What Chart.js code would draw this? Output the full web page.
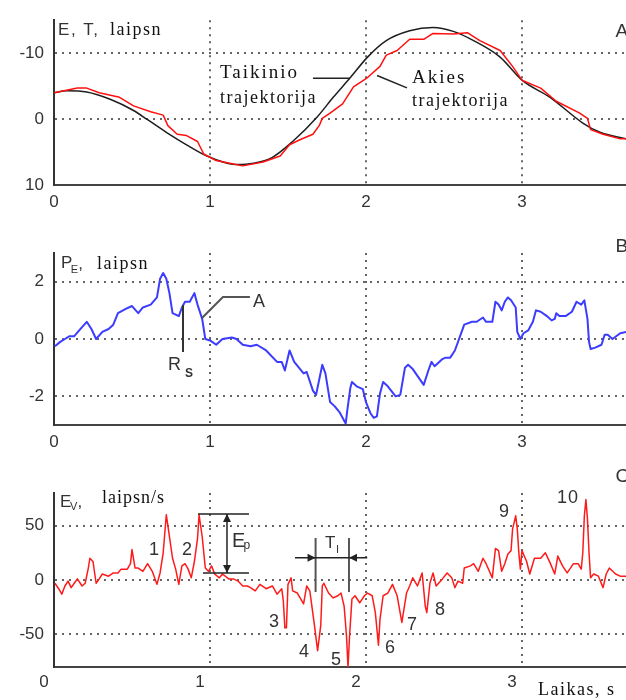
<!DOCTYPE html>
<html>
<head>
<meta charset="utf-8">
<script src="https://cdn.jsdelivr.net/npm/chart.js@4.4.1/dist/chart.umd.min.js"></script>
<style>
  body { margin: 0; background: #fff; width: 626px; height: 700px; overflow: hidden; position: relative; }
  canvas { position: absolute; left: 0; }
</style>
</head>
<body>
<canvas id="chartA" width="626" height="230" style="top:0"></canvas>
<canvas id="chartB" width="626" height="230" style="top:230px"></canvas>
<canvas id="chartC" width="626" height="240" style="top:460px"></canvas>
<script>
// time axis (s)
const xTicks = [0, 1, 2, 3];
const X_MAX = 3.667;

// A: target (Taikinio) and eye (Akies) trajectory, laipsn
const tTarget = [0, 0.08, 0.21, 0.36, 0.51, 0.6, 0.72, 0.85, 0.98, 1.11, 1.17, 1.28, 1.4, 1.53, 1.69, 1.79, 1.9, 2.01, 2.13, 2.28, 2.43, 2.56, 2.69, 2.86, 3.0, 3.18, 3.39, 3.5, 3.67];
const target = [-4, -4.3, -4.1, -3, -1.3, 0.1, 2, 3.9, 5.6, 6.7, 6.9, 6.7, 5.8, 3.4, -0.4, -3.3, -6.3, -9.4, -11.9, -13.4, -13.9, -13.3, -11.9, -9.4, -5.9, -3.3, 0.6, 2, 3];
const tEye = [0, 0.15, 0.21, 0.29, 0.42, 0.51, 0.62, 0.7, 0.73, 0.79, 0.85, 0.92, 0.96, 1.04, 1.15, 1.21, 1.34, 1.45, 1.51, 1.58, 1.66, 1.7, 1.72, 1.77, 1.85, 1.92, 2.01, 2.09, 2.13, 2.2, 2.28, 2.37, 2.43, 2.56, 2.65, 2.73, 2.86, 2.94, 3.0, 3.12, 3.22, 3.37, 3.42, 3.44, 3.52, 3.63, 3.67];
const eye = [-4, -4.7, -4.7, -4, -3.3, -2, -1.1, -0.6, 1, 2.3, 2.5, 3.4, 5.3, 6.3, 6.8, 7.1, 6.5, 5.6, 3.9, 3.1, 2.3, 1.0, -0.1, -0.9, -2.3, -4.9, -6.3, -8, -9.7, -10.4, -12.1, -12.1, -13, -12.9, -13.1, -11.9, -10.4, -8, -5.9, -4.7, -2.7, -0.9, -0.1, 1.6, 2.3, 3, 3];
const yTicksA = [-10, 0, 10];

// B: position error P_E, laipsn
const tPos = [0.006, 0.04, 0.07, 0.1, 0.13, 0.17, 0.21, 0.24, 0.27, 0.31, 0.35, 0.38, 0.41, 0.46, 0.5, 0.54, 0.57, 0.62, 0.66, 0.68, 0.7, 0.72, 0.74, 0.76, 0.8, 0.82, 0.84, 0.87, 0.9, 0.92, 0.95, 0.97, 1.0, 1.04, 1.08, 1.14, 1.17, 1.21, 1.26, 1.3, 1.36, 1.43, 1.46, 1.48, 1.51, 1.54, 1.6, 1.62, 1.66, 1.68, 1.72, 1.74, 1.77, 1.8, 1.83, 1.87, 1.88, 1.9, 1.91, 1.94, 1.98, 2.0, 2.03, 2.05, 2.07, 2.09, 2.11, 2.14, 2.19, 2.22, 2.25, 2.27, 2.3, 2.37, 2.4, 2.42, 2.44, 2.49, 2.51, 2.54, 2.57, 2.6, 2.63, 2.68, 2.71, 2.75, 2.77, 2.81, 2.83, 2.85, 2.87, 2.89, 2.91, 2.93, 2.96, 2.97, 2.99, 3.01, 3.04, 3.07, 3.09, 3.12, 3.16, 3.19, 3.21, 3.22, 3.24, 3.28, 3.32, 3.35, 3.38, 3.4, 3.42, 3.43, 3.44, 3.47, 3.51, 3.53, 3.55, 3.58, 3.63, 3.67];
const posErr = [-0.25, -0.1, 0, 0.1, 0.1, 0.35, 0.6, 0.35, 0, 0.25, 0.35, 0.5, 0.9, 1.05, 1.15, 0.9, 1.1, 1.2, 1.45, 2.1, 2.3, 2.1, 1.6, 0.9, 0.8, 1.1, 1.3, 1.3, 1.6, 1.2, 0.7, 0, -0.05, -0.2, 0, 0.05, 0, -0.2, -0.25, -0.2, -0.4, -0.8, -0.8, -1.1, -0.4, -0.8, -1.2, -1.15, -1.8, -1.95, -0.9, -1.2, -2.2, -2.35, -2.55, -2.95, -2.5, -1.7, -1.5, -1.65, -1.75, -2.2, -2.6, -2.75, -2.7, -1.9, -1.5, -1.65, -2.0, -1.95, -1.0, -0.9, -1.05, -1.6, -1.1, -0.8, -0.95, -0.7, -0.65, -0.65, -0.4, 0.05, 0.5, 0.6, 0.6, 0.75, 0.6, 0.6, 1.3, 1.2, 1.0, 1.3, 1.45, 1.35, 1.1, 0.25, 0, 0.2, 0.3, 0.6, 1.0, 0.95, 0.8, 0.65, 0.7, 0.9, 0.8, 0.8, 0.95, 1.3, 1.2, 1.35, 0.7, -0.1, -0.35, -0.3, -0.2, 0.15, 0.15, 0, 0.2, 0.25];
const yTicksB = [-2, 0, 2];

// C: velocity error E_V, laipsn/s
const tVel = [0.006, 0.03, 0.05, 0.07, 0.09, 0.11, 0.13, 0.15, 0.18, 0.2, 0.22, 0.23, 0.25, 0.27, 0.29, 0.31, 0.35, 0.38, 0.41, 0.43, 0.47, 0.49, 0.5, 0.52, 0.54, 0.57, 0.6, 0.63, 0.66, 0.68, 0.7, 0.72, 0.73, 0.76, 0.78, 0.8, 0.82, 0.84, 0.86, 0.88, 0.9, 0.92, 0.93, 0.95, 0.97, 0.99, 1.01, 1.03, 1.06, 1.08, 1.12, 1.15, 1.18, 1.21, 1.24, 1.26, 1.29, 1.32, 1.36, 1.4, 1.43, 1.46, 1.47, 1.48, 1.49, 1.5, 1.52, 1.53, 1.56, 1.6, 1.62, 1.64, 1.67, 1.69, 1.71, 1.72, 1.73, 1.76, 1.79, 1.82, 1.84, 1.86, 1.875, 1.885, 1.895, 1.91, 1.93, 1.96, 1.99, 2.01, 2.04, 2.06, 2.08, 2.09, 2.11, 2.14, 2.17, 2.2, 2.23, 2.24, 2.26, 2.28, 2.3, 2.33, 2.36, 2.38, 2.39, 2.41, 2.43, 2.45, 2.49, 2.52, 2.55, 2.57, 2.59, 2.62, 2.63, 2.67, 2.69, 2.72, 2.75, 2.77, 2.81, 2.83, 2.85, 2.87, 2.89, 2.91, 2.93, 2.94, 2.96, 2.97, 2.98, 2.99, 3.0, 3.03, 3.05, 3.08, 3.12, 3.15, 3.18, 3.21, 3.23, 3.26, 3.29, 3.33, 3.36, 3.38, 3.39, 3.4, 3.41, 3.42, 3.43, 3.44, 3.46, 3.49, 3.52, 3.54, 3.56, 3.6, 3.63, 3.67];
const velErr = [-3, -8, -13, -5.5, -1, -7, -3, 1, -5.5, -3, 11, 20, 17, -3, 1, 5.5, 3.5, 6.5, 6.5, 10, 10, 15, 28, 11, 11, 8, 15, 8, -4, 6.5, 25, 60, 50, 20, 10, -4, 13, 15, 10, 2, 17, 38, 60, 40, 11, 8, 13, 5.5, 2, 5.5, 1, 1, -1, -5.5, -5.5, -7, -10, -4, -8, -5.5, -13, -8, -19, -44, -44, -4, 2, -10, -12, -22, -5.5, -10, -42, -65, -42, -5.5, -3, -12, -16.5, -14.5, -12, -24, -51, -80, -51, -17.5, -14.5, -21, -14.5, -12, -14.5, -30, -60, -36, -14.5, -12, -4, -14.5, -39, -30, -12, -5.5, 2, -5.5, 6.5, -24, -30, -3, 6.5, -5.5, 1, 6.5, 2, -7, -1, -3, 11, 13, 15, 8, 20, 15, 2, 29, 27, 8, 15, 24, 27, 47, 59, 47, 25, 10, 27, 17, 5.5, 20, 20, 25, 16, 5.5, 22, 13, 6.5, 15, 15, 10, 25, 59, 74, 56, 25, 2, 5.5, 3.5, -7, 5.5, 11, 5.5, 3.5, 3.5];
const yTicksC = [-50, 0, 50];

const SANS = '"Liberation Sans", Arial, sans-serif';
const SERIF = '"Liberation Serif", "Times New Roman", serif';
const INK = '#333';

const zip = (ts, vs) => ts.map((t, i) => ({ x: t, y: vs[i] }));

function notes(items) {
  return {
    id: 'notes',
    afterDraw(chart) {
      const { ctx, scales: { x, y } } = chart;
      const P = (a, b) => [x.getPixelForValue(a), y.getPixelForValue(b)];
      ctx.save();
      for (const it of items) {
        if (it.path) {
          ctx.beginPath();
          ctx.strokeStyle = it.color || INK;
          ctx.lineWidth = it.width || 1.5;
          it.path.forEach(([a, b], i) => {
            const [px, py] = P(a, b);
            if (i) ctx.lineTo(px, py); else ctx.moveTo(px, py);
          });
          ctx.stroke();
        } else if (it.head) {
          const [px, py] = P(it.head[0], it.head[1]);
          const d = { up: [0, -1], down: [0, 1], left: [-1, 0], right: [1, 0] }[it.dir];
          const L = 8, W = 4;
          ctx.beginPath();
          ctx.fillStyle = '#222';
          ctx.moveTo(px, py);
          ctx.lineTo(px - d[0] * L - d[1] * W, py - d[1] * L - d[0] * W);
          ctx.lineTo(px - d[0] * L + d[1] * W, py - d[1] * L + d[0] * W);
          ctx.closePath();
          ctx.fill();
        } else {
          const [px, py] = P(it.at[0], it.at[1]);
          ctx.font = it.font;
          ctx.fillStyle = it.color || INK;
          ctx.textAlign = it.align || 'left';
          ctx.textBaseline = 'alphabetic';
          ctx.letterSpacing = it.spacing || '0px';
          ctx.fillText(it.text, px, py);
        }
      }
      ctx.restore();
    }
  };
}

function panel(id, o) {
  const canvas = document.getElementById(id);
  const H = canvas.height;
  const edge = v => v === o.yMin || v === o.yMax;
  return new Chart(canvas, {
    type: 'line',
    data: { datasets: o.datasets },
    options: {
      responsive: false,
      animation: false,
      layout: { padding: { top: o.top, left: 0, right: 0, bottom: 0 } },
      plugins: { legend: { display: false }, tooltip: { enabled: false } },
      elements: { point: { radius: 0 }, line: { borderJoinStyle: 'round' } },
      scales: {
        x: {
          type: 'linear', min: 0, max: X_MAX,
          afterBuildTicks: s => { s.ticks = xTicks.map(v => ({ value: v })); },
          afterFit: s => { s.height = H - o.bottom; },
          grid: {
            color: c => (c.tick && c.tick.value === 0) ? 'rgba(0,0,0,0)' : '#666',
            lineWidth: 2, drawTicks: false
          },
          border: { display: true, color: '#444', width: 2, dash: [2, 5] },
          ticks: { font: { family: SANS, size: 17 }, color: INK, padding: o.xPad, labelOffset: o.xOff || 0, maxRotation: 0 }
        },
        y: {
          type: 'linear', min: o.yMin, max: o.yMax, reverse: !!o.reverse,
          afterBuildTicks: s => { s.ticks = o.yTicks.map(v => ({ value: v })); },
          afterFit: s => { s.width = 54; },
          grid: {
            color: c => (c.tick && edge(c.tick.value)) ? 'rgba(0,0,0,0)' : '#666',
            lineWidth: 2, drawTicks: false
          },
          border: { display: true, color: '#333', width: 2, dash: [2, 5] },
          ticks: { font: { family: SANS, size: 17 }, color: INK, padding: 10 }
        }
      }
    },
    plugins: [notes(o.notes)]
  });
}

const serif18 = '18px ' + SERIF;
const sans18 = '18px ' + SANS;

panel('chartA', {
  top: 12, bottom: 185, xPad: 7,
  yMin: -15, yMax: 10, reverse: true, yTicks: yTicksA,
  datasets: [
    { data: zip(tEye, eye), borderColor: '#ff1010', borderWidth: 1.5, tension: 0 },
    { data: zip(tTarget, target), borderColor: '#1e1e1e', borderWidth: 1.5, cubicInterpolationMode: 'monotone' }
  ],
  notes: [
    { text: 'E, T,', at: [0.026, -12.83], font: '17px ' + SANS, spacing: '1.5px' },
    { text: 'laipsn', at: [0.359, -12.83], font: serif18, spacing: '1.5px', color: '#111' },
    { text: 'Taikinio', at: [1.064, -6.18], font: '19px ' + SERIF, spacing: '2px', color: '#111' },
    { text: 'trajektorija', at: [1.064, -2.43], font: serif18, spacing: '1.5px', color: '#111' },
    { path: [[1.66, -6.18], [1.897, -6.18]], color: '#222', width: 1.5 },
    { text: 'Akies', at: [2.295, -5.46], font: '19px ' + SERIF, spacing: '2px', color: '#111' },
    { text: 'trajektorija', at: [2.295, -1.99], font: serif18, spacing: '1.5px', color: '#111' },
    { path: [[2.071, -6.62], [2.263, -4.74]], color: '#222', width: 1.5 },
    { text: 'A', at: [3.6, -12.4], font: '19px ' + SANS }
  ]
});

panel('chartB', {
  top: 23, bottom: 195, xPad: 7,
  yMin: -3, yMax: 3, yTicks: yTicksB,
  datasets: [
    { data: zip(tPos, posErr), borderColor: '#3c3cff', borderWidth: 2, tension: 0 }
  ],
  notes: [
    { text: 'P', at: [0.045, 2.477], font: '17px ' + SANS },
    { text: 'E', at: [0.108, 2.3], font: '11px ' + SANS },
    { text: ',', at: [0.155, 2.44], font: '17px ' + SANS },
    { text: 'laipsn', at: [0.276, 2.44], font: serif18, spacing: '1.5px', color: '#111' },
    { path: [[0.949, 0.733], [1.083, 1.465], [1.256, 1.465]], color: '#555', width: 2 },
    { text: 'A', at: [1.276, 1.116], font: sans18 },
    { path: [[0.827, 1.19], [0.827, -0.453]], color: '#333', width: 2 },
    { text: 'R', at: [0.731, -1.08], font: sans18 },
    { text: 'S', at: [0.84, -1.325], font: 'bold 12px ' + SANS },
    { text: 'B', at: [3.6, 3.03], font: '19px ' + SANS }
  ]
});

panel('chartC', {
  top: 33, bottom: 207, xPad: 5, xOff: -10,
  yMin: -80, yMax: 80, yTicks: yTicksC,
  datasets: [
    { data: zip(tVel, velErr), borderColor: '#ff1a1a', borderWidth: 1.5, tension: 0 }
  ],
  notes: [
    { text: 'E', at: [0.038, 67.1], font: '17px ' + SANS },
    { text: 'V', at: [0.103, 64.4], font: '11px ' + SANS },
    { text: ',', at: [0.15, 67.1], font: '17px ' + SANS },
    { text: 'laipsn/s', at: [0.308, 70.8], font: serif18, spacing: '1px', color: '#111' },
    { text: '1', at: [0.641, 23], font: sans18, align: 'center' },
    { text: '2', at: [0.853, 23], font: sans18, align: 'center' },
    { path: [[0.923, 60.7], [1.25, 60.7]], color: '#222', width: 1.5 },
    { path: [[0.955, 6.4], [1.25, 6.4]], color: '#222', width: 1.5 },
    { path: [[1.109, 60.7], [1.109, 6.4]], color: '#222', width: 1.5 },
    { head: [1.109, 60.7], dir: 'up' },
    { head: [1.109, 6.4], dir: 'down' },
    { text: 'E', at: [1.141, 30.3], font: '20px ' + SANS },
    { text: 'p', at: [1.215, 28.5], font: '12px ' + SANS },
    { path: [[1.677, 38.6], [1.677, -11]], color: '#555', width: 2 },
    { path: [[1.891, 38.6], [1.891, -11]], color: '#555', width: 2 },
    { path: [[1.545, 20.5], [2.008, 20.5]], color: '#222', width: 1.5 },
    { head: [1.677, 20.5], dir: 'right' },
    { head: [1.891, 20.5], dir: 'left' },
    { text: 'T', at: [1.737, 29.4], font: '17px ' + SANS },
    { text: 'I', at: [1.808, 24.8], font: '11px ' + SANS },
    { text: '3', at: [1.41, -43.2], font: sans18, align: 'center' },
    { text: '4', at: [1.603, -70.8], font: sans18, align: 'center' },
    { text: '5', at: [1.808, -78.2], font: sans18, align: 'center' },
    { text: '6', at: [2.154, -67.1], font: sans18, align: 'center' },
    { text: '7', at: [2.295, -46], font: sans18, align: 'center' },
    { text: '8', at: [2.474, -32.2], font: sans18, align: 'center' },
    { text: '9', at: [2.885, 57.9], font: sans18, align: 'center' },
    { text: '10', at: [3.295, 70.8], font: sans18, align: 'center', spacing: '1px' },
    { text: 'C', at: [3.6, 90.1], font: '19px ' + SANS },
    { text: 'Laikas, s', at: [3.103, -105.7], font: serif18, spacing: '1.5px', color: '#111' }
  ]
});
</script>
</body>
</html>
